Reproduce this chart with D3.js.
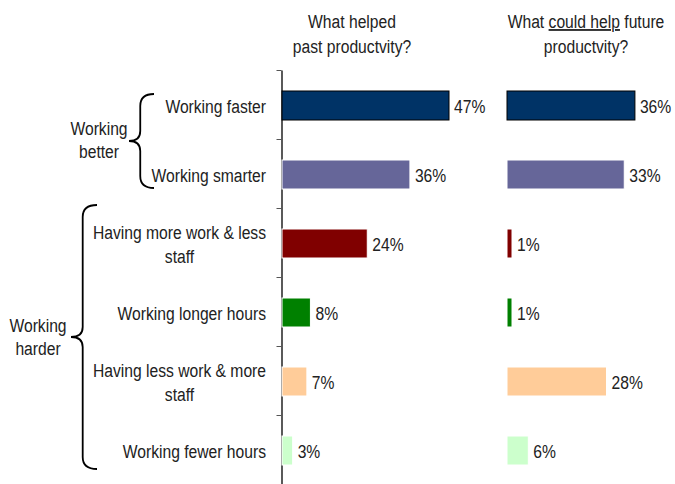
<!DOCTYPE html>
<html>
<head>
<meta charset="utf-8">
<script src="https://cdn.jsdelivr.net/npm/d3@7"></script>
<style>
body { margin: 0; background: #fff; }
text { font-family: "Liberation Sans", Arial, sans-serif; fill: #222; }
</style>
</head>
<body>
<div id="chart"></div>
<script>
// chart data
var categories = [
    ["Working faster"],
    ["Working smarter"],
    ["Having more work & less", "staff"],
    ["Working longer hours"],
    ["Having less work & more", "staff"],
    ["Working fewer hours"]
];
var pastValues = [47, 36, 24, 8, 7, 3];
var futureValues = [36, 33, 1, 1, 28, 6];
var barColors = ["#003366", "#666699", "#800000", "#008000", "#FFCC99", "#CCFFCC"];
var groupNames = [["Working", "better"], ["Working", "harder"]];

var w = 675;
var h = 484;
var fs = 18;       // font size
var squeeze = 0.87; // fake narrow font

var svg = d3.select("#chart")
    .append("svg")
    .attr("width", w)
    .attr("height", h);

// adds a horizontally squeezed text at x,y
function label(x, y, str, anchor) {
    return svg.append("text")
        .attr("transform", "translate(" + x + "," + y + ") scale(" + squeeze + ",1)")
        .attr("text-anchor", anchor || "start")
        .attr("font-size", fs + "px")
        .text(str);
}

// band scale for rows, boundaries from 70 to 484
var yScale = d3.scaleBand()
    .domain(d3.range(categories.length))
    .range([70, 484]);

var tickScale = d3.scaleLinear()
    .domain([0, categories.length])
    .range([70, 484]);

var xPast = d3.scaleLinear().domain([0, 47]).range([282, 449]);
var xFuture = d3.scaleLinear().domain([0, 47]).range([507, 674]);

var barH = 29;

//Y axis with ticks on band boundaries
var yAxis = d3.axisLeft(tickScale)
    .tickValues(d3.range(categories.length))
    .tickSize(5)
    .tickSizeOuter(0)
    .tickFormat("");

var axisG = svg.append("g")
    .attr("transform", "translate(281.5,0)")
    .call(yAxis);
axisG.select(".domain").attr("stroke", "#000").attr("stroke-width", 1.3);
axisG.selectAll(".tick line").attr("stroke", "#555");

function drawBars(values, xs, cls) {
    svg.selectAll("rect." + cls)
        .data(values)
        .enter()
        .append("rect")
        .attr("class", cls)
        .attr("x", xs(0))
        .attr("y", function (d, i) { return yScale(i) + yScale.bandwidth() / 2 - barH / 2 + 1; })
        .attr("width", function (d) { return Math.max(xs(d) - xs(0), 5); })
        .attr("height", barH)
        .attr("fill", function (d, i) { return barColors[i]; })
        .attr("stroke", function (d, i) { return i == 0 ? "#000" : "#fff"; })
        .attr("stroke-width", 1);

    svg.selectAll("text." + cls)
        .data(values)
        .enter()
        .append("text")
        .attr("class", cls)
        .attr("font-size", fs + "px")
        .attr("transform", function (d, i) {
            var x = xs(0) + Math.max(xs(d) - xs(0), 5) + 5;
            var y = yScale(i) + yScale.bandwidth() / 2 + 8;
            return "translate(" + x + "," + y + ") scale(" + squeeze + ",1)";
        })
        .text(function (d) { return d + "%"; });
}

drawBars(pastValues, xPast, "past");
drawBars(futureValues, xFuture, "future");

// category labels, right aligned, extra lines centered under first
categories.forEach(function (lines, i) {
    var cy = yScale(i) + yScale.bandwidth() / 2 + 1;
    if (lines.length == 1) {
        label(266, cy + 7, lines[0], "end");
    } else {
        var t = label(266, cy - 4.5, lines[0], "end");
        var lw = t.node().getComputedTextLength() * squeeze;
        label(266 - lw / 2, cy + 19, lines[1], "middle");
    }
});

// titles
label(352, 28, "What helped", "middle");
label(352, 53, "past productvity?", "middle");

var t2 = label(586, 28, "", "middle");
t2.append("tspan").text("What ");
t2.append("tspan").attr("text-decoration", "underline").text("could help");
t2.append("tspan").text(" future");
label(586, 53, "productvity?", "middle");

// curly braces
function brace(x, y0, y1, depth) {
    var ym = (y0 + y1) / 2;
    var xv = x + depth * 0.45;
    var xe = x + depth;
    return "M" + xe + "," + y0 +
        " Q" + xv + "," + y0 + " " + xv + "," + (y0 + 12) +
        " L" + xv + "," + (ym - 10) +
        " Q" + xv + "," + ym + " " + x + "," + ym +
        " Q" + xv + "," + ym + " " + xv + "," + (ym + 10) +
        " L" + xv + "," + (y1 - 12) +
        " Q" + xv + "," + y1 + " " + xe + "," + y1;
}

svg.append("path")
    .attr("d", brace(129, 94, 188, 25))
    .attr("fill", "none").attr("stroke", "#000").attr("stroke-width", 1.8);
svg.append("path")
    .attr("d", brace(71, 205, 469, 26))
    .attr("fill", "none").attr("stroke", "#000").attr("stroke-width", 1.8);

// group labels
label(99, 135, groupNames[0][0], "middle");
label(99, 158, groupNames[0][1], "middle");
label(38, 332, groupNames[1][0], "middle");
label(38, 355, groupNames[1][1], "middle");
</script>
</body>
</html>
